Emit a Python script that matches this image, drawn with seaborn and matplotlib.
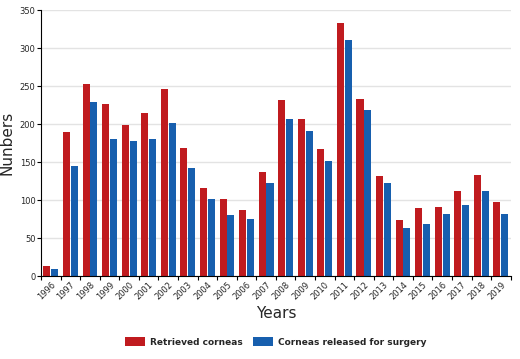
import pandas as pd
import numpy as np
import matplotlib
matplotlib.use("Agg")
import matplotlib.pyplot as plt
import seaborn as sns

years = [str(y) for y in range(1996, 2020)]
retrieved = [13, 189, 253, 227, 199, 214, 246, 168, 116, 101, 87, 137,
             231, 206, 167, 333, 233, 132, 74, 89, 91, 112, 133, 98]
released = [9, 145, 229, 180, 178, 181, 202, 142, 101, 80, 75, 122,
            207, 191, 151, 310, 219, 123, 63, 69, 82, 94, 112, 82]

labels = ["Retrieved corneas", "Corneas released for surgery"]
colors = ["#c01b1f", "#175fae"]

df = pd.DataFrame({"year": years * 2,
                   "value": retrieved + released,
                   "series": [labels[0]] * len(years) + [labels[1]] * len(years)})

sns.set_style("white")
plt.rcParams['font.family'] = ['DejaVu Sans']

fig = plt.figure(figsize=(5.2, 3.59), dpi=100)
ax = fig.add_axes([0.079, 0.231, 0.903, 0.741])

sns.barplot(data=df, x="year", y="value", hue="series", palette=colors,
            width=0.8, gap=0.1, ax=ax, saturation=1, edgecolor="none")

ax.set_ylim(0, 350)
ax.set_xlim(-0.5, len(years) - 0.5)
ax.set_yticks(range(0, 351, 50))
ax.yaxis.grid(True, color="#e3e3e3", linewidth=1)
ax.set_axisbelow(True)
for s in ["top", "right"]:
    ax.spines[s].set_visible(False)
ax.spines["left"].set_color("black")
ax.spines["bottom"].set_color("black")
ax.tick_params(axis="both", labelsize=6, length=3, width=0.8, color="black", pad=1)
ax.tick_params(axis="x", which="major", length=0, pad=3)
ax.set_xticks(np.arange(len(years) + 1) - 0.5, minor=True)
ax.tick_params(axis="x", which="minor", bottom=True, length=3, width=0.8, color="black")
ax.tick_params(axis="y", left=True)
plt.setp(ax.get_xticklabels(), rotation=45, ha="right", rotation_mode="anchor")

ax.set_xlabel("Years", fontsize=11, labelpad=3)
ax.set_ylabel("Nunbers", fontsize=11, labelpad=4)

handles, lbls = ax.get_legend_handles_labels()
ax.legend(handles, lbls, loc="upper center", bbox_to_anchor=(0.5, -0.2),
          ncol=2, frameon=False, handlelength=2.2, handleheight=1.1,
          columnspacing=1.2, handletextpad=0.5,
          prop={"weight": "bold", "size": 6.5})

fig.savefig("out.png", dpi=100)
